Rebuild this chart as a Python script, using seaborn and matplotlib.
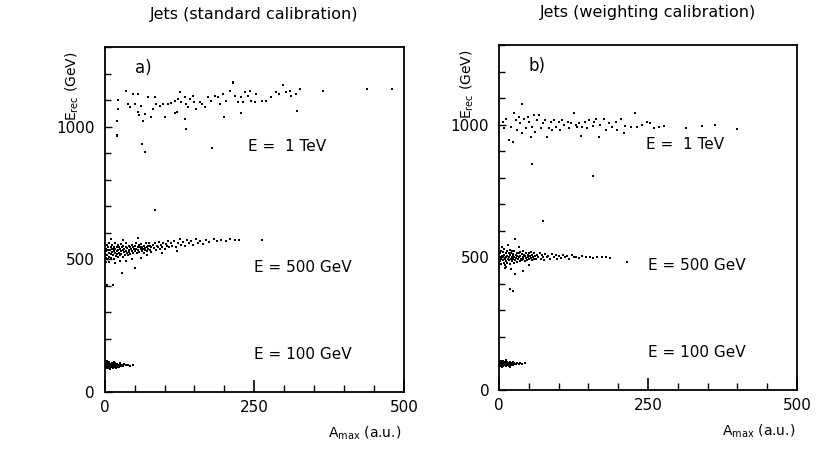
import matplotlib
matplotlib.use("Agg")
import matplotlib.pyplot as plt
from matplotlib.ticker import MultipleLocator, FixedLocator
import seaborn as sns
import pandas as pd

# ---------------- data ----------------
titles = ["Jets (standard calibration)", "Jets (weighting calibration)"]
panel_tags = ["a)", "b)"]
energy_labels = ["E =  1 TeV", "E = 500 GeV", "E = 100 GeV"]
x_ticks = [0, 250, 500]
y_ticks = [0, 500, 1000]

# panel a, E = 100 GeV
a100_x = [1,2,3,3,4,5,5,6,6,7,7,8,8,9,9,10,10,11,11,12,12,13,13,14,14,15,15,16,16,17,17,18,19,19,20,21,21,22,23,24,25,26,27,29,31,33,36,39,43,48,4,9,15,2,1,3,6,10,13,18]
a100_y = [98,105,92,110,101,96,108,103,90,99,112,95,104,100,88,107,97,102,93,109,99,96,104,101,91,106,98,94,103,100,110,97,105,92,101,96,107,99,103,95,100,108,97,102,99,105,100,103,98,101,115,85,113,95,110,100,97,102,99,102]

# panel a, E = 500 GeV
a500_x = [1,2,2,3,4,4,5,6,6,7,8,8,9,10,10,11,12,12,13,14,14,15,16,16,17,18,18,19,20,20,21,22,22,23,24,24,25,26,27,27,28,29,30,30,31,32,33,34,35,35,36,37,38,39,40,40,41,42,43,44,45,46,47,48,49,50,51,52,53,54,55,56,57,58,59,60,61,62,63,64,65,66,67,68,69,70,71,72,73,74,75,76,77,78,80,82,84,85,87,89,90,92,94,96,98,100,102,104,106,108,110,113,116,119,122,125,128,131,134,137,140,144,148,152,156,160,165,170,175,182,188,195,203,210,218,224,263,29,51,14,4,84,8,18,3,35,60,45,25,70,95,120,10,30,55]
a500_y = [520,540,505,530,555,515,535,500,545,525,560,510,535,520,548,505,538,528,555,515,540,530,502,548,522,538,560,512,532,545,520,555,508,535,525,548,515,540,530,558,520,545,535,510,552,528,540,518,548,532,560,525,542,515,535,552,528,545,520,538,555,530,545,522,540,550,532,562,538,525,548,535,555,528,545,538,558,530,548,540,525,552,542,535,560,545,530,552,540,562,535,550,545,528,555,542,560,535,552,545,565,538,555,548,562,540,558,550,568,545,560,552,570,548,562,575,555,565,550,572,560,568,555,575,562,570,558,572,565,575,568,572,570,575,572,574,571,447,466,402,402,684,490,485,488,495,505,500,492,515,525,530,575,572,580]

# panel a, E = 1 TeV
a1000_x = [22,22,21,21,36,39,42,47,50,56,56,58,61,64,67,72,78,81,84,86,92,97,100,106,111,117,120,123,125,128,134,136,134,136,139,142,148,150,153,159,162,167,173,178,184,189,192,198,200,203,209,214,217,223,228,231,234,240,242,245,251,253,262,270,278,287,292,298,303,312,320,326,322,228,117,365,438,480,215,310,321,62,68,180,21]
a1000_y = [1101,1067,1023,967,1136,1086,1073,1123,1086,1123,1054,1042,1079,1023,1048,1111,1035,1067,1111,1086,1079,1086,1035,1086,1088,1098,1054,1104,1130,1092,1111,1086,1029,992,1073,1104,1117,1092,1067,1092,1086,1073,1111,1098,1117,1111,1086,1123,1035,1098,1136,1167,1117,1092,1111,1092,1130,1117,1136,1098,1092,1123,1098,1098,1111,1130,1123,1155,1130,1117,1123,1142,1058,1051,1051,1136,1143,1143,1166,1136,1060,936,903,921,966]

# panel b, E = 100 GeV
b100_x = [1,2,2,3,4,4,5,6,6,7,7,8,8,9,10,10,11,12,12,13,14,14,15,16,16,17,18,19,20,21,22,23,24,26,28,30,33,36,39,43,5,11,18,3,1,9,13,20,25,15]
b100_y = [96,103,90,108,99,93,105,97,110,101,89,95,106,100,93,104,98,108,91,101,96,105,99,92,103,97,106,100,95,102,98,104,96,101,99,103,97,101,99,100,86,113,88,101,105,97,94,101,99,102]

# panel b, E = 500 GeV
b500_x = [1,2,2,3,4,4,5,6,6,7,8,8,9,10,10,11,12,12,13,14,14,15,16,16,17,18,18,19,20,20,21,22,22,23,24,24,25,26,26,27,28,29,30,30,31,32,33,34,35,35,36,37,38,39,40,40,41,42,43,44,45,46,47,48,49,50,51,52,53,54,55,56,57,58,59,60,62,64,66,68,70,72,74,76,78,80,83,86,89,92,95,98,101,104,107,110,114,118,122,126,130,135,140,146,152,158,165,172,180,186,215,18,24,27,40,27,74,10,20,5,15,33,50,12]
b500_y = [500,485,515,495,525,475,505,490,520,500,480,530,510,495,470,515,500,485,525,505,478,495,515,488,502,528,475,508,492,518,500,485,522,505,495,512,480,500,525,490,510,498,518,482,505,492,515,500,485,520,505,495,512,488,502,525,495,510,485,505,518,498,490,508,500,515,492,505,520,498,488,510,502,495,515,505,492,510,500,518,495,508,502,490,512,500,505,495,512,500,508,492,505,498,510,500,505,495,508,500,503,497,505,500,502,498,503,500,501,499,483,382,374,438,449,569,637,460,455,540,545,540,470,465]

# panel b, E = 1 TeV
b1000_x = [6,8,11,17,20,25,28,31,34,36,38,39,42,45,48,50,53,56,59,61,64,67,70,73,78,81,84,87,89,92,95,101,103,106,109,115,117,120,126,129,131,134,137,140,145,148,151,157,159,162,168,170,176,179,184,190,196,198,204,210,212,221,229,232,240,249,254,260,268,277,313,341,363,362,399,55,158,38,24]
b1000_y = [1011,986,1023,942,992,1042,1017,980,1030,1005,1077,967,1023,986,1030,1011,955,992,1036,973,1017,1036,986,1005,1017,955,986,1011,980,1017,992,1011,980,1017,998,1011,986,1005,1045,998,992,1005,957,992,1011,986,1017,995,1011,1023,955,998,1023,980,1005,992,1011,980,1023,967,995,992,1045,992,998,1011,1005,986,992,995,986,995,998,1000,985,850,805,1079,936]

# ---------------- assemble tidy table ----------------
frames = []
for panel, groups in (("a", [(a100_x, a100_y), (a500_x, a500_y), (a1000_x, a1000_y)]),
                      ("b", [(b100_x, b100_y), (b500_x, b500_y), (b1000_x, b1000_y)])):
    for xs, ys in groups:
        frames.append(pd.DataFrame({"A": xs, "E": ys, "panel": panel}))
df = pd.concat(frames, ignore_index=True)

# ---------------- style ----------------
sns.set_style("ticks")
plt.rcParams["font.family"] = ["DejaVu Sans"]
plt.rcParams["mathtext.default"] = "regular"
plt.rcParams["text.color"] = "black"
plt.rcParams["axes.labelcolor"] = "black"

fig = plt.figure(figsize=(8.3, 4.49), dpi=100)
W, H = 830, 449
boxes = [(104.7, 47, 404, 392), (499, 45, 797, 390)]
axes = []
for (l, t, r, b) in boxes:
    axes.append(fig.add_axes([l / W, 1 - b / H, (r - l) / W, (b - t) / H]))

for i, (ax, panel) in enumerate(zip(axes, ["a", "b"])):
    sub = df[df["panel"] == panel]
    sns.scatterplot(data=sub, x="A", y="E", ax=ax, color="black", s=4,
                    marker="s", linewidth=0, legend=False)
    ax.set_xlim(0, 500)
    ax.set_ylim(0, 1300)
    ax.xaxis.set_major_locator(FixedLocator(x_ticks))
    ax.yaxis.set_major_locator(FixedLocator(y_ticks))
    ax.xaxis.set_minor_locator(MultipleLocator(50))
    ax.yaxis.set_minor_locator(MultipleLocator(100))
    ax.tick_params(which="both", direction="in", top=False, right=False,
                   labelsize=11, colors="black")
    ax.tick_params(axis="x", which="major", length=9, width=1.2, pad=6)
    ax.tick_params(axis="x", which="minor", length=5, width=1.0)
    ax.tick_params(axis="y", which="major", length=5, width=1.0, pad=7)
    ax.tick_params(axis="y", which="minor", length=4, width=1.0)
    for sp in ax.spines.values():
        sp.set_visible(True)
        sp.set_color("black")
        sp.set_linewidth(1.3)
    ax.set_xlabel(r"A$_{max}$ (a.u.)", fontsize=10)
    ax.xaxis.set_label_coords(0.87, -0.095)
    ax.set_ylabel(r"E$_{rec}$ (GeV)", fontsize=10)
    ax.yaxis.set_label_coords(-0.078, 0.885)
    ax.text(0.5, 1.095, titles[i], transform=ax.transAxes, ha="center",
            va="center", fontsize=11.5)
    ax.text(0.10, 0.94, panel_tags[i], transform=ax.transAxes, ha="left",
            va="center", fontsize=12)
    ax.text(240 if i == 0 else 246, 925, energy_labels[0], fontsize=11, va="center")
    ax.text(250, 470, energy_labels[1], fontsize=11, va="center")
    ax.text(250, 142, energy_labels[2], fontsize=11, va="center")

fig.savefig("out.png", dpi=100, facecolor="white")
